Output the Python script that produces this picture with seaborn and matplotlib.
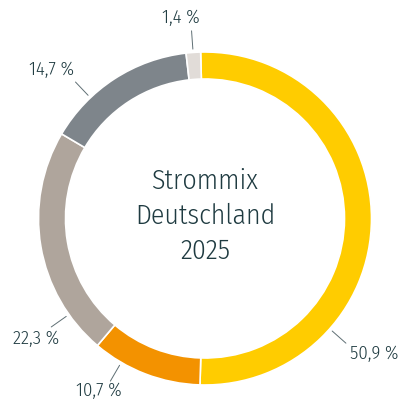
import matplotlib
matplotlib.use("Agg")
import matplotlib.pyplot as plt
import seaborn as sns
import numpy as np

# Data (clockwise from top)
sources = ["Erneuerbare", "Erdgas", "Kohle", "Kernenergie / Sonstige", "Übrige"]
shares = [50.9, 10.7, 22.3, 14.7, 1.4]
share_labels = ["50,9 %", "10,7 %", "22,3 %", "14,7 %", "1,4 %"]
colors = ["#ffcc00", "#f39200", "#afa59c", "#7e858b", "#e1dcd8"]
center_title = "Strommix\nDeutschland\n2025"

# label layout: leader line angle, text angle, text radius (x R)
line_angles = [-41.5, 239.8, 215.2, 133.5, 94.1]
text_angles = [-38.7, 238.2, 215.5, 136.0, 96.8]
text_radii = [1.30, 1.215, 1.246, 1.285, 1.213]

sns.set_theme(style="white")
plt.rcParams["font.family"] = ["Fira Sans Condensed", "Roboto", "DejaVu Sans"]

TEXT = "#1f3b41"
R = 166.5

fig = plt.figure(figsize=(4.03, 4.0), dpi=100)
ax = fig.add_axes([0, 0, 1, 1])

ax.pie(shares, colors=colors, startangle=91.5, counterclock=False,
       radius=R, wedgeprops=dict(width=27, edgecolor="white", linewidth=1.2))

for lab, la, ta, tr in zip(share_labels, line_angles, text_angles, text_radii):
    a = np.deg2rad(la)
    ax.plot([1.02 * R * np.cos(a), 1.13 * R * np.cos(a)],
            [1.02 * R * np.sin(a), 1.13 * R * np.sin(a)],
            color="#5f6f74", lw=0.7)
    t = np.deg2rad(ta)
    ax.text(tr * R * np.cos(t), tr * R * np.sin(t), lab, ha="center", va="center",
            fontsize=13.5, fontweight=300, color=TEXT)

ax.text(0, 2.5, center_title, ha="center", va="center", fontsize=20,
        fontweight=300, color=TEXT, linespacing=1.38)

ax.set_xlim(-205, 198)
ax.set_ylim(-181.5, 218.5)
ax.set_aspect("equal", adjustable="box")
ax.axis("off")

fig.savefig("out.png", dpi=100, facecolor="white")
